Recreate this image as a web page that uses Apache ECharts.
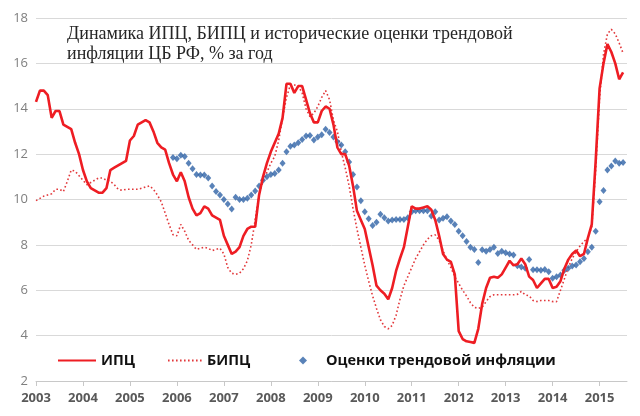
<!DOCTYPE html>
<html lang="ru">
<head>
<meta charset="utf-8">
<title>Динамика ИПЦ, БИПЦ и трендовой инфляции</title>
<script src="https://cdn.jsdelivr.net/npm/echarts@6/dist/echarts.min.js"></script>
<style>
    html, body { margin: 0; padding: 0; background: #fff; }
    #chart { width: 640px; height: 416px; }
</style>
</head>
<body>
<div id="chart"></div>
<script>
    "use strict";

    // ---- Data (monthly, % y/y) ----
    const yearLabels = ["2003", "2004", "2005", "2006", "2007", "2008", "2009", "2010", "2011", "2012", "2013", "2014", "2015"];
    const monthsInLastYear = 8; // axis runs to Aug 2015, data ends Jul 2015

    // ИПЦ, Jan 2003 .. Jul 2015
    const cpi = [
        14.3, 14.8, 14.8, 14.6, 13.6, 13.9, 13.9, 13.3, 13.2, 13.1, 12.5, 12.0,
        11.3, 10.8, 10.5, 10.4, 10.3, 10.3, 10.5, 11.3, 11.4, 11.5, 11.6, 11.7,
        12.6, 12.8, 13.3, 13.4, 13.5, 13.4, 13.0, 12.5, 12.3, 12.2, 11.6, 11.1,
        10.8, 11.2, 10.8, 10.1, 9.6, 9.3, 9.4, 9.7, 9.6, 9.3, 9.2, 9.1,
        8.4, 8.0, 7.6, 7.7, 7.9, 8.4, 8.7, 8.8, 8.8, 10.2, 11.0, 11.6,
        12.1, 12.5, 12.9, 13.6, 15.1, 15.1, 14.7, 15.0, 15.0, 14.4, 13.8, 13.4,
        13.4, 13.9, 14.1, 14.0, 13.3, 12.3, 12.0, 12.0, 11.5, 10.6, 9.5, 9.1,
        8.7, 7.9, 7.1, 6.2, 6.0, 5.85, 5.6, 6.1, 6.85, 7.4, 7.9, 8.8,
        9.7, 9.6, 9.6, 9.65, 9.7, 9.55, 9.1, 8.4, 7.6, 7.35, 7.25, 6.7,
        4.2, 3.85, 3.75, 3.72, 3.68, 4.3, 5.4, 6.1, 6.55, 6.6, 6.55, 6.7,
        7.0, 7.3, 7.1, 7.15, 7.4, 7.15, 6.6, 6.45, 6.1, 6.3, 6.5, 6.5,
        6.1, 6.15, 6.4, 6.95, 7.35, 7.6, 7.75, 7.5, 7.6, 8.3, 8.9, 11.7,
        14.9, 16.0, 16.85, 16.5, 16.0, 15.3, 15.6
    ];

    // БИПЦ, Jan 2003 .. Jul 2015
    const coreCpi = [
        9.95, 10.05, 10.15, 10.2, 10.25, 10.45, 10.45, 10.35, 10.8, 11.3, 11.25, 11.05,
        10.85, 10.65, 10.75, 10.85, 10.95, 10.95, 10.85, 10.8, 10.65, 10.45, 10.4, 10.45,
        10.45, 10.45, 10.45, 10.5, 10.55, 10.6, 10.45, 10.2, 9.9, 9.4, 8.9, 8.45,
        8.4, 8.9, 8.6, 8.2, 8.0, 7.8, 7.85, 7.9, 7.85, 7.75, 7.8, 7.85,
        7.6, 7.0, 6.75, 6.7, 6.75, 6.95, 7.3, 8.0, 9.1, 10.2, 10.8, 11.2,
        11.6, 11.9, 12.6, 13.6, 14.5, 15.05, 15.05, 15.0, 14.7, 14.0, 13.65, 13.8,
        14.1, 14.5, 14.8, 14.4, 13.5, 13.0, 12.1, 11.4, 10.6, 9.6, 8.7, 7.9,
        7.1, 6.4, 5.75, 5.2, 4.7, 4.4, 4.3, 4.45, 4.9, 5.6, 6.2, 6.6,
        7.0, 7.4, 7.7, 8.0, 8.25, 8.4, 8.44, 8.2, 7.75, 7.35, 7.0, 6.6,
        6.3, 6.0, 5.75, 5.45, 5.25, 5.2, 5.25, 5.5, 5.72, 5.8, 5.8, 5.8,
        5.8, 5.8, 5.8, 5.82, 5.95, 5.8, 5.75, 5.55, 5.5, 5.55, 5.55, 5.55,
        5.5, 5.5, 6.0, 6.5, 7.0, 7.4, 7.7, 7.95, 8.15, 8.3, 8.8, 11.3,
        14.5, 16.4, 17.3, 17.5, 17.3, 16.9, 16.45
    ];

    // Оценки трендовой инфляции, Dec 2005 .. Jul 2015
    const trendStartIndex = 35; // Dec 2005
    const trendEstimate = [
        11.85,
        11.8, 11.95, 11.9, 11.6, 11.35, 11.1, 11.08, 11.08, 10.95, 10.6, 10.35, 10.2,
        10.0, 9.8, 9.58, 10.1, 10.0, 10.0, 10.05, 10.2, 10.38, 10.6, 10.85, 11.0,
        11.1, 11.15, 11.3, 11.6, 12.1, 12.35, 12.4, 12.5, 12.65, 12.8, 12.82, 12.62,
        12.75, 12.85, 13.1, 12.95, 12.75, 12.55, 12.4, 12.1, 11.65, 11.1, 10.55, 9.95,
        9.46, 9.15, 8.85, 9.0, 9.35, 9.2, 9.05, 9.1, 9.12, 9.12, 9.12, 9.2,
        9.46, 9.5, 9.5, 9.5, 9.5, 9.27, 9.46, 9.1, 9.17, 9.24, 9.05, 8.9,
        8.6, 8.4, 8.15, 7.9, 7.8, 7.22, 7.78, 7.72, 7.8, 7.9, 7.62, 7.72,
        7.65, 7.6, 7.55, 7.08, 7.03, 6.97, 7.35, 6.9, 6.9, 6.88, 6.92, 6.82,
        6.53, 6.6, 6.67, 6.88, 6.97, 7.07, 7.11, 7.26, 7.4, 7.7, 7.9, 8.6,
        9.9, 10.4, 11.3, 11.48, 11.7, 11.6, 11.63
    ];

    const yTicks = { min: 2, max: 18, step: 2 };

    const COLORS = { cpi: "#ee1d23", core: "#e2383b", trend: "#2f63a6", grid: "#d9d9d9", axis: "#c8c8c8" };
    const NAMES = { cpi: "ИПЦ", core: "БИПЦ", trend: "Оценки трендовой инфляции" };
    const LEGEND_TEXT = { fontFamily: "Open Sans", fontWeight: "bold", fontSize: 14.5, color: "#111" };

    function buildMonths() {
        const out = [];
        yearLabels.forEach((y, i) => {
            const n = i === yearLabels.length - 1 ? monthsInLastYear : 12;
            for (let m = 1; m <= n; m++) out.push(y + "-" + String(m).padStart(2, "0"));
        });
        return out;
    }

    function padTrend(len) {
        const out = new Array(len).fill("-");
        trendEstimate.forEach((v, i) => { out[trendStartIndex + i] = v; });
        return out;
    }

    // one legend box per item, placed like the Excel legend
    function legendBox(name, left, extra) {
        return Object.assign({
            data: [name],
            left: left,
            top: 349,
            padding: 0,
            itemGap: 0,
            selectedMode: false,
            textStyle: LEGEND_TEXT
        }, extra || {});
    }

    function init() {
        const el = document.getElementById("chart");
        const chart = echarts.init(el, null, { renderer: "canvas" });
        const months = buildMonths();
        const isJanuary = (idx) => idx % 12 === 0;

        chart.setOption({
            animation: false,
            backgroundColor: "#fff",
            title: {
                text: "Динамика ИПЦ, БИПЦ и исторические оценки трендовой\nинфляции ЦБ РФ, % за год",
                left: 62,
                top: 19,
                textStyle: { fontFamily: "Liberation Serif", fontWeight: "normal", fontSize: 18, lineHeight: 20, color: "#262626" }
            },
            legend: [
                // line-only icons: hide the marker the line legend puts in the middle
                legendBox(NAMES.cpi, 57, { top: 353, itemWidth: 38, itemHeight: 14, itemStyle: { opacity: 0 } }),
                legendBox(NAMES.core, 167, { top: 353, itemWidth: 34, itemHeight: 14, itemStyle: { opacity: 0 } }),
                legendBox(NAMES.trend, 299, {
                    top: 353,
                    itemWidth: 8, itemHeight: 8, icon: "diamond",
                    textStyle: Object.assign({}, LEGEND_TEXT, { padding: [0, 0, 0, 14] })
                })
            ],
            grid: { left: 36, right: 13, top: 18, bottom: 35, containLabel: false },
            xAxis: {
                type: "category",
                data: months,
                boundaryGap: false,
                axisLine: { lineStyle: { color: COLORS.axis, width: 1 } },
                axisTick: { interval: isJanuary, length: 5, lineStyle: { color: COLORS.axis } },
                axisLabel: {
                    interval: isJanuary,
                    formatter: (v) => v.slice(0, 4),
                    margin: 11,
                    fontFamily: "Open Sans",
                    fontWeight: "bold",
                    fontSize: 13,
                    color: "#595959"
                },
                splitLine: { show: false }
            },
            yAxis: {
                type: "value",
                min: yTicks.min,
                max: yTicks.max,
                interval: yTicks.step,
                axisLine: { show: false },
                axisTick: { show: false },
                axisLabel: { margin: 8, fontFamily: "Open Sans", fontSize: 13, color: "#7f7f7f" },
                splitLine: { lineStyle: { color: COLORS.grid, width: 1 } }
            },
            series: [
                {
                    name: NAMES.core,
                    type: "line",
                    data: coreCpi,
                    showSymbol: false,
                    symbol: "none",
                    lineStyle: { color: COLORS.core, width: 1.6, type: [1.6, 2.4] },
                    itemStyle: { color: COLORS.core },
                    z: 2
                },
                {
                    name: NAMES.trend,
                    type: "scatter",
                    data: padTrend(months.length),
                    symbol: "diamond",
                    symbolSize: [6, 7],
                    itemStyle: { color: COLORS.trend },
                    z: 3
                },
                {
                    name: NAMES.cpi,
                    type: "line",
                    data: cpi,
                    showSymbol: false,
                    symbol: "none",
                    lineStyle: { color: COLORS.cpi, width: 2.6 },
                    itemStyle: { color: COLORS.cpi },
                    z: 4
                }
            ]
        });
        window.addEventListener("resize", () => chart.resize());
    }

    init();
</script>
</body>
</html>
